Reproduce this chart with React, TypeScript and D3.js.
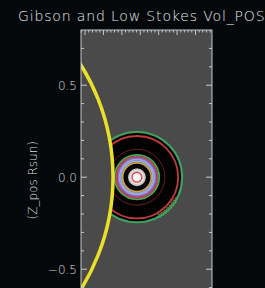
import React from "react";
import * as d3 from "d3";

// chart values (Rsun units)
const title = "Gibson and Low Stokes Vol_POS";
const yLabel = "(Z_pos Rsun)";
const yDomain = [-0.8, 0.8];
const xDomain = [0.978, 1.69];
const yTickLabels = [-0.5, 0.0, 0.5];
const sunCenter = [0, 0];
const sunRadius = 1.152;
const cmeCenter = [1.282, 0.0];
const blackRadius = 0.24;
const coreRadius = 0.054;
const contourRadii = [0.246, 0.224, 0.152, 0.121, 0.112, 0.103, 0.095, 0.087, 0.078, 0.059, 0.027];
const contourColors = ["#3aa85c", "#c23a3a", "#6a2020", "#3fae62", "#c84848", "#7f6cc4", "#b49ad8", "#8fb4e4", "#d0a24a", "#0a0a0a", "#e04040"];
const noiseArcs = [
  { r: 0.232, a0: 118, a1: 150, color: "#c23a3a" },
  { r: 0.246, a0: 122, a1: 152, color: "#3aa85c" },
];

const W = 265;
const H = 288;
const margin = { left: 81, top: 30 };
const plotW = 131;
const plotH = 294.4;

export default function App() {
  const x = d3.scaleLinear().domain(xDomain).range([margin.left, margin.left + plotW]);
  const y = d3.scaleLinear().domain([yDomain[1], yDomain[0]]).range([margin.top, margin.top + plotH]);
  const px = (r: number) => x(r) - x(0);

  const cx = x(cmeCenter[0]);
  const cy = y(cmeCenter[1]);
  const sx = x(sunCenter[0]);
  const sy = y(sunCenter[1]);
  const sr = px(sunRadius);

  // plot area minus the solar disc (contours are occulted by the limb)
  const offDisc = d3.path();
  offDisc.rect(margin.left, margin.top, plotW, plotH);
  offDisc.moveTo(sx + sr, sy);
  offDisc.arc(sx, sy, sr, 0, 2 * Math.PI);

  // minor ticks every 0.1 on y, every 0.02 on x
  const yMinor = d3.range(-7, 8).map((i) => i / 10);
  const xMinor = d3.range(Math.ceil(xDomain[0] * 50), Math.floor(xDomain[1] * 50) + 1).map((i) => i / 50);

  return (
    <svg width={W} height={H} style={{ display: "block", background: "#05080b" }}>
      <style>{`body{margin:0;background:#05080b}`}</style>
      <defs>
        <clipPath id="plot">
          <rect x={margin.left} y={margin.top} width={plotW} height={plotH} />
        </clipPath>
        <clipPath id="offdisc">
          <path d={offDisc.toString()} clipRule="evenodd" />
        </clipPath>
        <radialGradient id="core">
          <stop offset="0%" stopColor="#ffffff" />
          <stop offset="60%" stopColor="#f2f2f2" />
          <stop offset="100%" stopColor="#b8b8b8" />
        </radialGradient>
      </defs>

      <text x={18} y={21} fill="#e8e8e8" fontFamily="DejaVu Sans, sans-serif" fontSize={14} fontWeight={300} letterSpacing={0.85}>
        {title}
      </text>

      <rect x={margin.left} y={margin.top} width={plotW} height={plotH} fill="#4a4a4a" />

      <g clipPath="url(#offdisc)">
        <circle cx={cx} cy={cy} r={px(blackRadius)} fill="#020202" />
        {contourRadii.map((r, i) => (
          <circle key={i} cx={cx} cy={cy} r={px(r)} fill="none" stroke={contourColors[i]} strokeWidth={i === 2 ? 1 : 1.8} />
        ))}
        <circle cx={cx} cy={cy} r={px(coreRadius) - 1} fill="url(#core)" />
        <circle cx={cx} cy={cy} r={px(contourRadii[10])} fill="none" stroke={contourColors[10]} strokeWidth={1.3} />
        {noiseArcs.map((a, i) => (
          <path
            key={i}
            transform={`translate(${cx},${cy})`}
            d={d3.arc()({ innerRadius: px(a.r) - 2, outerRadius: px(a.r) + 1, startAngle: (a.a0 * Math.PI) / 180, endAngle: (a.a1 * Math.PI) / 180 }) || ""}
            fill="none"
            stroke={a.color}
            strokeWidth={1.2}
            strokeDasharray="2 1.5"
          />
        ))}
      </g>
      <g clipPath="url(#plot)">
        <circle cx={sx} cy={sy} r={sr} fill="none" stroke="#e9e02a" strokeWidth={3.5} />
      </g>

      {/* frame */}
      <rect x={margin.left} y={margin.top} width={plotW} height={plotH} fill="none" stroke="#c8c8c8" strokeWidth={1} />

      {/* left + right ticks */}
      {yMinor.map((v) => {
        const major = yTickLabels.some((t) => Math.abs(t - v) < 1e-6);
        const len = major ? 6 : 3;
        return (
          <g key={v} stroke="#c8c8c8">
            <line x1={margin.left} x2={margin.left + len} y1={y(v)} y2={y(v)} />
            <line x1={margin.left + plotW} x2={margin.left + plotW - len} y1={y(v)} y2={y(v)} />
          </g>
        );
      })}

      {/* top ruler */}
      {xMinor.map((v, i) => {
        const major = Math.abs(v * 10 - Math.round(v * 10)) < 1e-6;
        return <line key={i} x1={x(v)} x2={x(v)} y1={margin.top} y2={margin.top + (major ? 5 : 2.5)} stroke="#c8c8c8" />;
      })}

      {yTickLabels.map((v) => (
        <text key={v} x={77} y={y(v) + 4.5} textAnchor="end" fill="#dcdcdc" fontFamily="DejaVu Sans, sans-serif" fontSize={12} fontWeight={300}>
          {d3.format(".1f")(v).replace("-", "\u2212")}
        </text>
      ))}

      <text
        transform={`translate(37,${y(0) + 3}) rotate(-90)`}
        textAnchor="middle"
        fill="#dcdcdc"
        fontFamily="DejaVu Sans, sans-serif"
        fontSize={12}
        fontWeight={300}
      >
        {yLabel}
      </text>
    </svg>
  );
}
